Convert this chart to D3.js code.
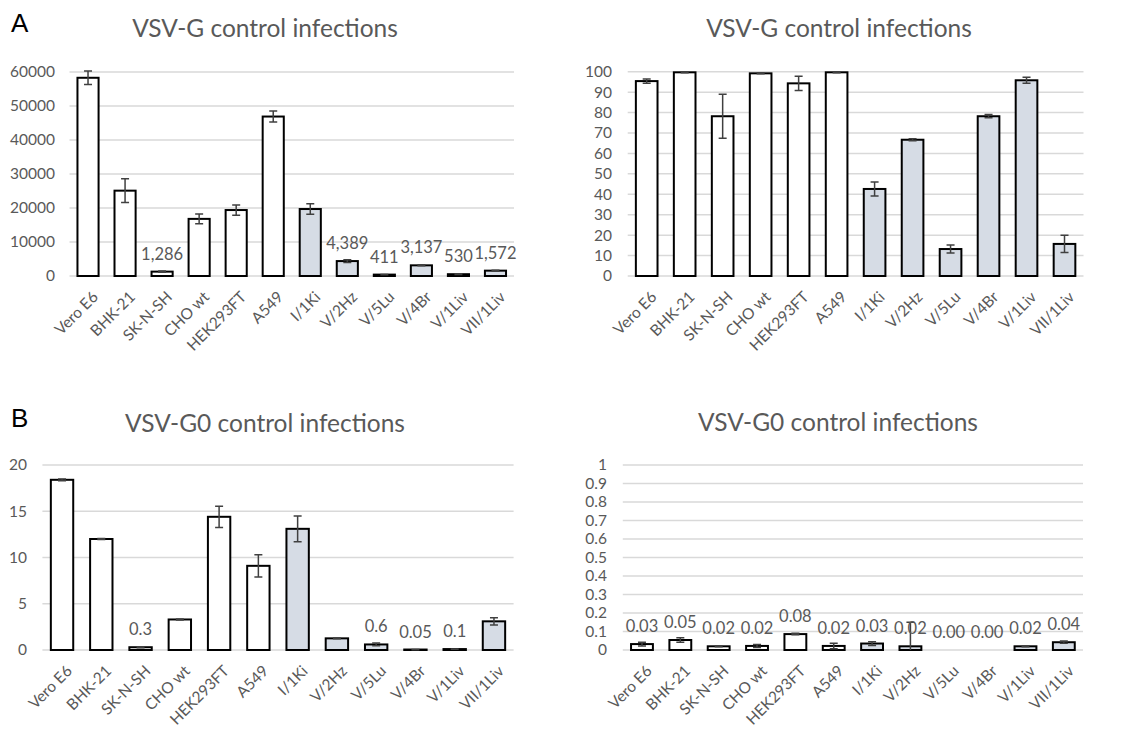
<!DOCTYPE html>
<html>
<head>
<meta charset="utf-8">
<script src="https://cdn.jsdelivr.net/npm/d3@7"></script>
<style>
  body { margin: 0; background: #fff; }
  svg { display: block; font-family: Lato, 'Open Sans', sans-serif; }
  .grid line { stroke: #d9d9d9; stroke-width: 1.5; }
  .ytick { fill: #595959; font-size: 15.5px; }
  .xtick { fill: #595959; font-size: 15.5px; }
  .title { fill: #595959; font-size: 24.5px; }
  .dlabel { fill: #595959; font-size: 16.5px; }
  .bar { stroke: #000; stroke-width: 2; }
  .err { stroke: #404040; stroke-width: 1.5; fill: none; }
  .letter { fill: #000; font-size: 26px; font-family: 'Liberation Sans', Arial, sans-serif; }
</style>
</head>
<body>
<svg id="chart" width="1128" height="731"></svg>
<script>
const cells = ['Vero E6', 'BHK-21', 'SK-N-SH', 'CHO wt', 'HEK293FT', 'A549',
  'I/1Ki', 'V/2Hz', 'V/5Lu', 'V/4Br', 'V/1Liv', 'VII/1Liv'];

// first six are cell lines (white), the rest bat cells (blue-grey)
const isBat = [false, false, false, false, false, false, true, true, true, true, true, true];

const gCounts = [58300, 25100, 1286, 16800, 19400, 46900, 19700, 4389, 411, 3137, 530, 1572];
const gCountsErr = [2000, 3500, 200, 1450, 1500, 1600, 1550, 400, 60, 150, 100, 150];
const gCountsLabels = ['', '', '1,286', '', '', '', '', '4,389', '411', '3,137', '530', '1,572'];

const gPercent = [95.4, 99.7, 78.2, 99.2, 94.3, 99.7, 42.6, 66.7, 13.2, 78.2, 95.8, 15.7];
const gPercentErr = [1, 0.2, 10.8, 0.2, 3.5, 0.2, 3.4, 0.5, 2, 0.8, 1.5, 4.2];

const g0Counts = [18.4, 12.0, 0.3, 3.3, 14.4, 9.1, 13.1, 1.26, 0.6, 0.05, 0.1, 3.1];
const g0CountsErr = [0.1, 0.05, 0.05, 0.05, 1.15, 1.2, 1.4, 0.05, 0.15, 0.01, 0.01, 0.4];
const g0CountsLabels = ['', '', '0.3', '', '', '', '', '', '0.6', '0.05', '0.1', ''];

const g0Percent = [0.032, 0.054, 0.02, 0.022, 0.086, 0.022, 0.035, 0.02, 0, 0, 0.02, 0.042];
const g0PercentErr = [0.01, 0.012, 0.002, 0.008, 0.004, 0.015, 0.01, 0.13, 0, 0, 0.002, 0.006];
const g0PercentLabels = ['0.03', '0.05', '0.02', '0.02', '0.08', '0.02', '0.03', '0.02', '0.00', '0.00', '0.02', '0.04'];

const yTicksCounts = d3.range(0, 60001, 10000);
const yTicksPercent = d3.range(0, 101, 10);
const yTicksG0 = d3.range(0, 21, 5);
const yTicksG0Pct = d3.range(0, 11).map(d => d / 10);

const svg = d3.select('#chart');

function drawPanel(opt) {
  let g = svg.append('g');

  let x = d3.scaleBand()
    .domain(cells)
    .range([opt.left, opt.right])
    .paddingInner(0.43)
    .paddingOuter(0.215);

  let y = d3.scaleLinear()
    .domain([0, opt.max])
    .range([opt.bottom, opt.top]);

  g.append('text')
    .attr('class', 'title')
    .attr('x', opt.titleX)
    .attr('y', opt.titleY)
    .attr('text-anchor', 'middle')
    .text(opt.title);

  g.append('g')
    .attr('class', 'grid')
    .selectAll('line')
    .data(opt.ticks).enter()
      .append('line')
        .attr('x1', opt.left)
        .attr('x2', opt.right)
        .attr('y1', d => y(d))
        .attr('y2', d => y(d));

  g.selectAll('.ytick')
    .data(opt.ticks).enter()
      .append('text')
        .attr('class', 'ytick')
        .attr('x', opt.labelX)
        .attr('y', d => y(d))
        .attr('dy', '0.35em')
        .attr('text-anchor', 'end')
        .text(d => opt.fmt(d));

  g.selectAll('.bar')
    .data(opt.values).enter()
      .append('rect')
        .attr('class', 'bar')
        .attr('x', (d, i) => x(cells[i]))
        .attr('width', x.bandwidth())
        .attr('y', d => y(d))
        .attr('height', d => opt.bottom - y(d))
        .style('fill', (d, i) => isBat[i] ? '#d6dce5' : '#ffffff');

  let cap = 4;
  opt.values.forEach((v, i) => {
    let e = opt.errs[i];
    if (!e) return;
    let cx = x(cells[i]) + x.bandwidth() / 2;
    let yHi = y(v + e);
    let yLo = y(Math.max(0, v - e));
    let path = 'M' + cx + ',' + yHi + 'V' + yLo +
      'M' + (cx - cap) + ',' + yHi + 'H' + (cx + cap);
    if (v - e > 0) {
      path += 'M' + (cx - cap) + ',' + yLo + 'H' + (cx + cap);
    }
    g.append('path').attr('class', 'err').attr('d', path);
  });

  if (opt.labels) {
    g.selectAll('.dlabel')
      .data(opt.labels).enter()
        .append('text')
          .attr('class', 'dlabel')
          .attr('x', (d, i) => x(cells[i]) + x.bandwidth() / 2)
          .attr('y', (d, i) => y(opt.values[i]) - 12)
          .attr('text-anchor', 'middle')
          .text(d => d);
  }

  g.selectAll('.xtick')
    .data(cells).enter()
      .append('text')
        .attr('class', 'xtick')
        .attr('text-anchor', 'end')
        .attr('transform', d => 'translate(' + (x(d) + x.bandwidth() / 2 + 11) + ',' + (opt.bottom + 22) + ') rotate(-45)')
        .text(d => d);
}

svg.append('text').attr('class', 'letter').attr('x', 11).attr('y', 32).text('A');
svg.append('text').attr('class', 'letter').attr('x', 11).attr('y', 427).text('B');

drawPanel({
  title: 'VSV-G control infections', titleX: 265, titleY: 37,
  left: 69.5, right: 514, top: 72, bottom: 276, max: 60000,
  ticks: yTicksCounts, fmt: d3.format('d'), labelX: 55,
  values: gCounts, errs: gCountsErr, labels: gCountsLabels
});

drawPanel({
  title: 'VSV-G control infections', titleX: 839, titleY: 37,
  left: 627.7, right: 1083.5, top: 71.7, bottom: 276, max: 100,
  ticks: yTicksPercent, fmt: d3.format('d'), labelX: 612,
  values: gPercent, errs: gPercentErr, labels: null
});

drawPanel({
  title: 'VSV-G0 control infections', titleX: 265, titleY: 432,
  left: 42.4, right: 513.6, top: 465, bottom: 650, max: 20,
  ticks: yTicksG0, fmt: d3.format('d'), labelX: 27,
  values: g0Counts, errs: g0CountsErr, labels: g0CountsLabels
});

drawPanel({
  title: 'VSV-G0 control infections', titleX: 838, titleY: 431,
  left: 622.8, right: 1083, top: 465, bottom: 650, max: 1,
  ticks: yTicksG0Pct, fmt: d => String(d), labelX: 607,
  values: g0Percent, errs: g0PercentErr, labels: g0PercentLabels
});
</script>
</body>
</html>
